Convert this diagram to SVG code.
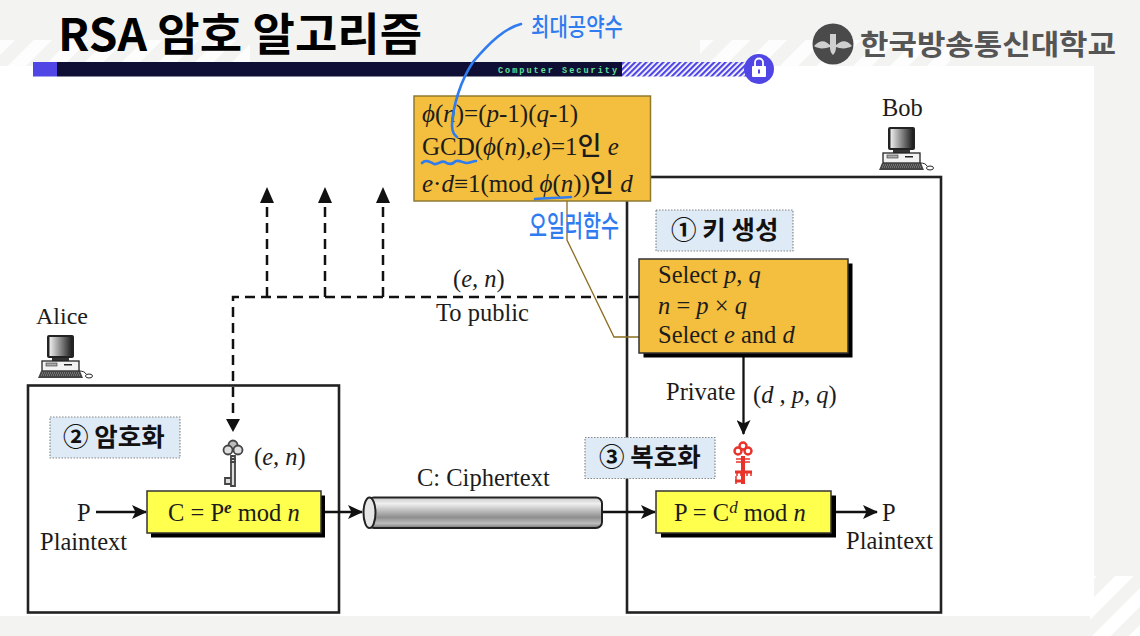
<svg xmlns="http://www.w3.org/2000/svg" xmlns:xlink="http://www.w3.org/1999/xlink" width="1140" height="636" viewBox="0 0 1140 636">
<style>
.s{font-family:"Liberation Serif","Noto Sans CJK KR",serif;font-size:24.5px;fill:#1c1c1c}
.i{font-style:italic}
.ko{font-family:"Noto Sans CJK KR",sans-serif;font-weight:500;font-size:26px}
.k{font-family:"Noto Sans CJK KR","Noto Sans",sans-serif;font-weight:700;fill:#111}
.hw{font-family:"Noto Sans CJK KR",sans-serif;font-weight:500;fill:#2f7bf0}
.box{fill:none;stroke:#222;stroke-width:2.6}
.tag{fill:#deeaf5;stroke:#888;stroke-width:1.2;stroke-dasharray:1.5 1.5}
.sh{fill:#000}
.or{fill:#f4be3e;stroke:#333;stroke-width:1.5}
.ye{fill:#ffff4d;stroke:#333;stroke-width:1.5}
.ln{fill:none;stroke:#111;stroke-width:2.3}
.da{fill:none;stroke:#111;stroke-width:2.5;stroke-dasharray:10 6}
.bl{fill:none;stroke:#2f7bf0;stroke-width:2.6;stroke-linecap:round;stroke-linejoin:round}
</style>
<defs>
<pattern id="stripe" width="26" height="26" patternUnits="userSpaceOnUse" patternTransform="rotate(45)"><rect width="26" height="26" fill="#f3f3f2"/><rect width="13" height="26" fill="#fff"/></pattern>
<pattern id="hatch" width="4" height="4" patternUnits="userSpaceOnUse" patternTransform="rotate(45)"><rect width="4" height="4" fill="#fff"/><rect width="2.2" height="4" fill="#4f46e5"/></pattern>
<linearGradient id="cyl" x1="0" y1="0" x2="0" y2="1"><stop offset="0" stop-color="#c8c8c8"/><stop offset=".2" stop-color="#efefef"/><stop offset=".65" stop-color="#8e8e8e"/><stop offset=".85" stop-color="#bdbdbd"/><stop offset="1" stop-color="#777"/></linearGradient>
<linearGradient id="scr" x1="0" y1="0" x2="1" y2="0"><stop offset="0" stop-color="#eee"/><stop offset="1" stop-color="#222"/></linearGradient>
<marker id="ah" markerWidth="16" markerHeight="14" refX="14" refY="7" orient="auto" markerUnits="userSpaceOnUse"><path d="M0 0L15 7L0 14L3.500 7Z" fill="#111"/></marker>
<g id="pc">
<rect x="10" y="0" width="27" height="23" rx="2" fill="#222"/><rect x="12.500" y="2" width="22" height="19" fill="url(#scr)"/>
<rect x="15" y="23" width="17" height="3" fill="#333"/>
<rect x="5" y="26" width="37" height="10" fill="#f2f2f2" stroke="#222" stroke-width="1.300"/><rect x="9" y="28" width="11" height="3" fill="#aaa" stroke="#333" stroke-width=".6"/><rect x="27" y="29" width="8" height="1.500" fill="#222"/>
<path d="M1 43L4 36H43L46 43Z" fill="#444"/><path d="M5 38H42M4 40H43" stroke="#ddd" stroke-width=".6" stroke-dasharray="1 1"/>
<path d="M42 36C46 36 48 37 49 39" fill="none" stroke="#222"/><ellipse cx="52" cy="41" rx="3.500" ry="2" fill="#fff" stroke="#222"/>
</g>
</defs>
<rect width="1140" height="636" fill="#f3f3f2"/>
<rect x="0" y="40" width="250" height="26" fill="url(#stripe)" opacity=".85"/>
<rect x="700" y="40" width="250" height="26" fill="url(#stripe)" opacity=".85"/>
<rect x="1090" y="576" width="50" height="60" fill="url(#stripe)"/>
<rect x="0" y="66" width="1094" height="550" fill="#fff"/>
<g id="header">
<text x="58" y="51" font-size="45" style="font-family:'Noto Sans CJK KR',sans-serif;font-weight:700;fill:#000" textLength="364" lengthAdjust="spacingAndGlyphs">RSA 암호 알고리즘</text>
<rect x="33" y="62" width="24" height="14.500" fill="#4f46e5"/>
<rect x="57" y="62" width="565" height="14.500" fill="#0f0f35"/>
<rect x="622" y="62" width="124" height="14.500" fill="url(#hatch)"/>
<text x="498" y="72.500" font-family="'Liberation Mono',monospace" font-weight="700" font-size="8.500" fill="#63e09a" textLength="119">Computer Security</text>
<circle cx="759" cy="69" r="15" fill="#4f46e5"/>
<path d="M755 66V62.500a4 4 0 0 1 8 0V66" fill="none" stroke="#fff" stroke-width="1.800"/><rect x="752" y="66" width="14" height="11" rx="1" fill="#fff"/><rect x="758" y="69.500" width="2" height="4" fill="#4f46e5"/>
</g>
<g id="logo">
<circle cx="833" cy="44" r="20.500" fill="#4a4a4a"/>
<path d="M814 46C822 38 826 42 830 45L830 34H836V45C840 42 845 38 852 46C845 50 840 48 836 47C836 52 834 54 833 55C832 54 830 52 830 47C826 48 820 50 814 46Z" fill="#cfcfcf"/>
<text x="860" y="55" font-family="'Noto Sans CJK KR',sans-serif" font-weight="700" font-size="28" fill="#555" textLength="256" lengthAdjust="spacingAndGlyphs">한국방송통신대학교</text>
</g>
<g id="alice-box"><rect class="box" x="28" y="385.500" width="311" height="227"/></g>
<g id="bob-box"><rect class="box" x="627" y="177" width="314" height="435.500"/></g>
<g id="connectors">
<path class="da" d="M639 297H233V425"/>
<path d="M233 432L226 419H240Z" fill="#111"/>
<path class="da" d="M267 297V195"/><path d="M267 187L260 203H274Z" fill="#111"/>
<path class="da" d="M325 297V195"/><path d="M325 187L318 203H332Z" fill="#111"/>
<path class="da" d="M383 297V195"/><path d="M383 187L376 203H390Z" fill="#111"/>
<path class="ln" d="M96 512H146" marker-end="url(#ah)"/>
<path class="ln" d="M325 512H362" marker-end="url(#ah)"/>
<path class="ln" d="M602 512H655" marker-end="url(#ah)"/>
<path class="ln" d="M835 512H877" marker-end="url(#ah)"/>
<path class="ln" d="M743.500 353V434" marker-end="url(#ah)"/>
<path d="M567 201V240L614 337H650" fill="none" stroke="#8a6d20" stroke-width="1.300"/>
</g>
<g id="alice"><text class="s" x="36" y="324" style="font-size:24px">Alice</text><use xlink:href="#pc" href="#pc" x="37" y="335"/></g>
<g id="bob"><text class="s" x="882" y="116">Bob</text><use xlink:href="#pc" href="#pc" x="878" y="127"/></g>
<g id="formula">
<rect x="414" y="96" width="236.500" height="105" fill="#f4be3e" stroke="#8f7a30" stroke-width="1.500"/>
<text class="s" x="422" y="122" style="font-size:25px"><tspan class="i">ϕ</tspan>(<tspan class="i">n</tspan>)=(<tspan class="i">p</tspan>-1)(<tspan class="i">q</tspan>-1)</text>
<text class="s" x="422" y="155" style="font-size:25px">GCD(<tspan class="i">ϕ</tspan>(<tspan class="i">n</tspan>),<tspan class="i">e</tspan>)=1<tspan class="ko">인</tspan> <tspan class="i">e</tspan></text>
<text class="s" x="422" y="192" style="font-size:25px"><tspan class="i">e</tspan>·<tspan class="i">d</tspan>≡1(mod <tspan class="i">ϕ</tspan>(<tspan class="i">n</tspan>))<tspan class="ko">인</tspan> <tspan class="i">d</tspan></text>
</g>
<g id="keygen">
<rect class="sh" x="643.500" y="263.500" width="209" height="94"/>
<rect class="or" x="639" y="259" width="209" height="94"/>
<text class="s" x="658" y="283">Select <tspan class="i">p</tspan>, <tspan class="i">q</tspan></text>
<text class="s" x="658" y="314"><tspan class="i">n</tspan> = <tspan class="i">p</tspan> × <tspan class="i">q</tspan></text>
<text class="s" x="658" y="343">Select <tspan class="i">e</tspan> and <tspan class="i">d</tspan></text>
</g>
<g id="labels">
<text class="s" x="453" y="287"><tspan>(</tspan><tspan class="i">e, n</tspan>)</text>
<text class="s" x="436" y="321">To public</text>
<text class="s" x="666" y="400">Private</text>
<text class="s" x="753" y="403">(<tspan class="i">d , p, q</tspan>)</text>
<text class="s" x="417" y="486">C: Ciphertext</text>
<text class="s" x="254" y="465">(<tspan class="i">e, n</tspan>)</text>
<text class="s" x="77" y="521">P</text>
<text class="s" x="40" y="550">Plaintext</text>
<text class="s" x="882" y="521">P</text>
<text class="s" x="846" y="549">Plaintext</text>
</g>
<g id="tag1"><rect class="tag" x="656" y="210" width="137" height="41"/><text class="k" x="671" y="239" font-size="25.500">① 키 생성</text></g>
<g id="tag2"><rect class="tag" x="50" y="417" width="130" height="41"/><text class="k" x="63" y="446" font-size="25.500">② 암호화</text></g>
<g id="tag3"><rect class="tag" x="585" y="437.500" width="130" height="41"/><text class="k" x="599" y="466" font-size="25.500">③ 복호화</text></g>
<g id="key-public" fill="none" stroke="#444" stroke-width="1.800">
<circle cx="233" cy="445" r="4.500" fill="#bbb"/><circle cx="228" cy="450" r="4.500" fill="#ddd"/><circle cx="238" cy="450" r="4.500" fill="#ddd"/>
<path d="M231 456H235V486H231ZM231 478H225V484H231" fill="#ddd"/>
<path d="M230 459H236M230 462H236"/>
</g>
<g id="key-private" fill="none" stroke="#e8332a" stroke-width="2.400">
<circle cx="743" cy="446" r="3.500"/><circle cx="738" cy="451" r="3.500" /><circle cx="748" cy="451" r="3.500"/>
<path d="M743 456V484" stroke-width="4"/>
<path d="M736 459H750M736 462H750" stroke-width="1.500"/>
<path d="M735 472H752M735 481H743" stroke-width="3"/><path d="M737 472V476M741 472V476M747 472V476M751 472V476M736 476V484" stroke-width="1.500"/>
</g>
<g id="encrypt">
<rect class="sh" x="151" y="495.500" width="174" height="42"/>
<rect class="ye" x="147" y="491" width="174" height="42"/>
<text class="s" x="168" y="521">C = P<tspan class="i" dy="-8" font-size="17" font-weight="700">e</tspan><tspan dy="8"> mod </tspan><tspan class="i">n</tspan></text>
</g>
<g id="decrypt">
<rect class="sh" x="661" y="495.500" width="175" height="42"/>
<rect class="ye" x="656" y="491" width="175" height="42"/>
<text class="s" x="674" y="521">P = C<tspan class="i" dy="-8" font-size="17">d</tspan><tspan dy="8"> mod </tspan><tspan class="i">n</tspan></text>
</g>
<g id="cipher">
<rect x="368" y="497.500" width="234" height="30.500" rx="6" fill="url(#cyl)" stroke="#222" stroke-width="2"/>
<ellipse cx="369.500" cy="512.700" rx="6" ry="15.300" fill="#e6e6e6" stroke="#222" stroke-width="2"/>
</g>
<g id="notes">
<path class="bl" d="M521 24C505 28 490 42 473 62C461 80 453 105 452 125C452 131 454 135 457 137"/>
<path class="bl" d="M422 163C426 159 430 162 434 164C438 165 441 160 445 162C449 165 453 164 456 161C460 160 463 163 467 163C470 163 473 161 476 161"/>
<path class="bl" d="M535 199C545 198 560 198 571 197"/>
<text class="hw" x="531" y="36" font-size="25" textLength="92" lengthAdjust="spacingAndGlyphs">최대공약수</text>
<text class="hw" x="529" y="237" font-size="29" textLength="90" lengthAdjust="spacingAndGlyphs">오일러함수</text>
</g>
</svg>
